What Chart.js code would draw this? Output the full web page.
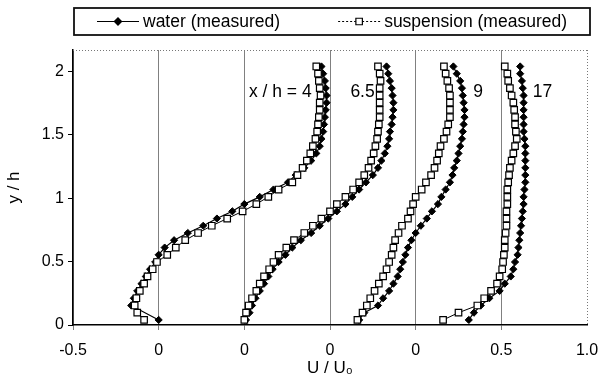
<!DOCTYPE html>
<html>
<head>
<meta charset="utf-8">
<script src="https://cdn.jsdelivr.net/npm/chart.js@4/dist/chart.umd.min.js"></script>
<style>
  body { margin: 0; background: #fff; }
</style>
</head>
<body>
<canvas id="grafico" width="601" height="380"></canvas>
<script>
// measurement heights y/h (shared by every profile)
const yLevels = [0.04, 0.097, 0.154, 0.211, 0.269, 0.326, 0.383, 0.44, 0.497, 0.554, 0.611, 0.669,
  0.726, 0.783, 0.84, 0.897, 0.954, 1.011, 1.069, 1.126, 1.183, 1.24, 1.297, 1.354,
  1.411, 1.469, 1.526, 1.583, 1.64, 1.697, 1.754, 1.811, 1.869, 1.926, 1.983, 2.04];

// U/U0, one array per station
const water4 = [0.0, null, -0.16, -0.145, -0.125, -0.10, -0.075, -0.05, -0.02, 0.0, 0.035, 0.09,
  0.17, 0.26, 0.34, 0.43, 0.50, 0.59, 0.67, 0.755, 0.80, 0.85, 0.89, 0.92,
  0.94, 0.95, 0.96, 0.965, 0.97, 0.975, 0.98, 0.98, 0.975, 0.97, 0.96, 0.95];
const susp4 = [-0.085, -0.125, -0.14, -0.13, -0.11, -0.085, -0.065, -0.035, -0.01, 0.05, 0.10, 0.155,
  0.23, 0.31, 0.40, 0.49, 0.57, 0.64, 0.70, 0.78, 0.81, 0.84, 0.865, 0.885,
  0.90, 0.915, 0.925, 0.93, 0.935, 0.94, 0.94, 0.945, 0.94, 0.935, 0.93, 0.92];
const water65 = [0.01, 0.03, 0.045, 0.065, 0.09, 0.115, 0.14, 0.165, 0.20, 0.24, 0.28, 0.33,
  0.39, 0.44, 0.49, 0.54, 0.59, 0.63, 0.67, 0.71, 0.75, 0.78, 0.80, 0.82,
  0.835, 0.845, 0.85, 0.86, 0.865, 0.87, 0.87, 0.865, 0.86, 0.85, 0.84, 0.83];
const susp65 = [0.0, 0.01, 0.025, 0.045, 0.07, 0.09, 0.115, 0.145, 0.17, 0.20, 0.245, 0.29,
  0.35, 0.40, 0.45, 0.50, 0.54, 0.59, 0.635, 0.67, 0.70, 0.725, 0.74, 0.755,
  0.765, 0.775, 0.78, 0.785, 0.79, 0.79, 0.79, 0.79, 0.79, 0.795, 0.79, 0.78];
const water9 = [0.17, 0.20, 0.28, 0.31, 0.345, 0.37, 0.395, 0.41, 0.425, 0.44, 0.455, 0.475,
  0.50, 0.53, 0.565, 0.595, 0.63, 0.65, 0.675, 0.70, 0.715, 0.725, 0.74, 0.75,
  0.76, 0.77, 0.775, 0.78, 0.785, 0.785, 0.78, 0.775, 0.77, 0.76, 0.74, 0.72];
const susp9 = [0.16, 0.19, 0.215, 0.235, 0.26, 0.285, 0.31, 0.33, 0.345, 0.36, 0.37, 0.38,
  0.40, 0.42, 0.455, 0.47, 0.485, 0.50, 0.535, 0.56, 0.59, 0.61, 0.625, 0.635,
  0.645, 0.665, 0.68, 0.69, 0.70, 0.70, 0.70, 0.70, 0.695, 0.685, 0.675, 0.665];
const water17 = [0.31, 0.34, 0.38, 0.43, 0.49, 0.52, 0.555, 0.57, 0.58, 0.595, 0.60, 0.605,
  0.61, 0.615, 0.62, 0.625, 0.63, 0.63, 0.635, 0.64, 0.64, 0.64, 0.64, 0.64,
  0.64, 0.635, 0.63, 0.63, 0.63, 0.63, 0.63, 0.63, 0.625, 0.62, 0.61, 0.61];
const susp17 = [0.16, 0.25, 0.36, 0.40, 0.44, 0.475, 0.49, 0.505, 0.51, 0.515, 0.52, 0.52,
  0.525, 0.53, 0.53, 0.53, 0.535, 0.535, 0.535, 0.54, 0.545, 0.55, 0.56, 0.57,
  0.58, 0.59, 0.585, 0.58, 0.58, 0.575, 0.57, 0.56, 0.55, 0.54, 0.535, 0.52];

const stations = ['x / h = 4', '6.5', '9', '17'];
const offsets = [0, 0.5, 1.0, 1.5];     // each profile is shifted by 0.5 on the x axis
const waterSeries = [water4, water65, water9, water17];
const suspSeries = [susp4, susp65, susp9, susp17];
const xTickLabels = ['-0.5', '0', '0', '0', '0', '0.5', '1.0'];
const yTicks = [0, 0.5, 1, 1.5, 2];
const stationLabelX = [0.71, 1.19, 1.865, 2.24];
const stationLabelY = 1.84;
const legendNames = ['water (measured)', 'suspension (measured)'];

const fonte = "'Liberation Sans', Arial, sans-serif";
Chart.defaults.font.family = fonte;
Chart.defaults.font.size = 16;
Chart.defaults.color = '#000';

function pontos(arr, off) {
  return yLevels.map((y, i) => arr[i] == null ? null : { x: arr[i] + off, y: y }).filter(p => p);
}

const datasets = [];
for (let i = 0; i < stations.length; i++) {
  datasets.push({
    label: legendNames[0],
    data: pontos(waterSeries[i], offsets[i]),
    showLine: true,
    borderColor: '#000',
    borderWidth: 1.2,
    pointStyle: 'rectRot',
    pointRadius: 3.6,
    pointBackgroundColor: '#000',
    pointBorderColor: '#000',
    pointBorderWidth: 1,
    order: 2
  });
  datasets.push({
    label: legendNames[1],
    data: pontos(suspSeries[i], offsets[i]),
    showLine: true,
    borderColor: '#000',
    borderWidth: 1,
    pointStyle: 'rect',
    pointRadius: 4.6,
    pointBackgroundColor: '#fff',
    pointBorderColor: '#000',
    pointBorderWidth: 1.2,
    order: 1
  });
}

// legend box, dotted frame and station labels
const extras = {
  id: 'extras',
  afterDraw(chart) {
    const ctx = chart.ctx;
    const a = chart.chartArea;
    const xs = chart.scales.x, ys = chart.scales.y;
    ctx.save();

    // dotted top and right frame
    ctx.strokeStyle = '#777';
    ctx.lineWidth = 1;
    ctx.setLineDash([1, 2]);
    ctx.beginPath();
    ctx.moveTo(a.left, a.top + 0.5);
    ctx.lineTo(a.right, a.top + 0.5);
    ctx.moveTo(a.right + 0.5, a.top);
    ctx.lineTo(a.right + 0.5, a.bottom);
    ctx.stroke();
    ctx.setLineDash([]);

    // station labels
    ctx.fillStyle = '#000';
    ctx.font = '17.5px ' + fonte;
    ctx.textAlign = 'center';
    ctx.textBaseline = 'middle';
    stations.forEach((s, i) => {
      ctx.fillText(s, xs.getPixelForValue(stationLabelX[i]), ys.getPixelForValue(stationLabelY));
    });

    // legend
    const boxL = a.left + 1, boxR = a.right + 3, boxT = 8, boxB = 35;
    ctx.strokeStyle = '#111';
    ctx.lineWidth = 1.8;
    ctx.strokeRect(boxL, boxT, boxR - boxL, boxB - boxT);
    ctx.font = '17.5px ' + fonte;
    ctx.textAlign = 'left';
    const w1 = ctx.measureText(legendNames[0]).width;
    const w2 = ctx.measureText(legendNames[1]).width;
    const linha = 42, gap = 4, entre = 58;
    const total = linha + gap + w1 + entre + linha + gap + w2;
    let x = (boxL + boxR) / 2 - total / 2;
    const yc = (boxT + boxB) / 2;

    ctx.lineWidth = 1.2;
    ctx.strokeStyle = '#000';
    ctx.beginPath();
    ctx.moveTo(x, yc); ctx.lineTo(x + linha, yc);
    ctx.stroke();
    Chart.helpers.drawPoint(ctx, { pointStyle: 'rectRot', radius: 3.6, borderWidth: 1 }, x + linha / 2, yc);
    ctx.fillStyle = '#000';
    ctx.fill();
    ctx.fillText(legendNames[0], x + linha + gap, yc + 1);

    x += linha + gap + w1 + entre;
    ctx.setLineDash([2, 2]);
    ctx.lineWidth = 1;
    ctx.beginPath();
    ctx.moveTo(x, yc); ctx.lineTo(x + linha, yc);
    ctx.stroke();
    ctx.setLineDash([]);
    ctx.fillStyle = '#fff';
    ctx.strokeStyle = '#000';
    ctx.lineWidth = 1.2;
    Chart.helpers.drawPoint(ctx, { pointStyle: 'rect', radius: 4.6, borderWidth: 1.2 }, x + linha / 2, yc);
    ctx.fillStyle = '#000';
    ctx.fillText(legendNames[1], x + linha + gap, yc + 1);

    ctx.restore();
  }
};

new Chart(document.getElementById('grafico'), {
  type: 'scatter',
  data: { datasets: datasets },
  options: {
    responsive: false,
    animation: false,
    devicePixelRatio: 1,
    layout: { padding: { top: 50, right: 14, left: 0, bottom: 0 } },
    plugins: { legend: { display: false }, tooltip: { enabled: false } },
    scales: {
      x: {
        type: 'linear',
        min: -0.5,
        max: 2.5,
        afterFit: s => { s.height = 55; s.paddingLeft = 0; s.paddingRight = 0; },
        ticks: {
          stepSize: 0.5,
          padding: 11,
          maxRotation: 0,
          callback: (v, i) => xTickLabels[i]
        },
        grid: {
          color: c => (c.tick && c.tick.value >= 2.5) ? 'rgba(0,0,0,0)' : '#808080',
          tickLength: 5,
          lineWidth: 1
        },
        border: { color: '#000', width: 1.5 },
        title: { display: true, text: 'U / U₀', font: { size: 17 }, padding: { top: 0, bottom: 1 } }
      },
      y: {
        min: 0,
        max: 2.17,
        afterFit: s => { s.width = 73; s.paddingTop = 0; s.paddingBottom = 0; },
        afterBuildTicks: s => { s.ticks = yTicks.map(v => ({ value: v })); },
        ticks: { padding: 4, callback: v => String(v) },
        grid: { drawOnChartArea: false, color: '#000', tickLength: 5 },
        border: { color: '#000', width: 1.5 },
        title: { display: true, text: 'y / h', font: { size: 17 }, padding: { top: 4, bottom: 2 } }
      }
    }
  },
  plugins: [extras]
});
</script>
</body>
</html>
